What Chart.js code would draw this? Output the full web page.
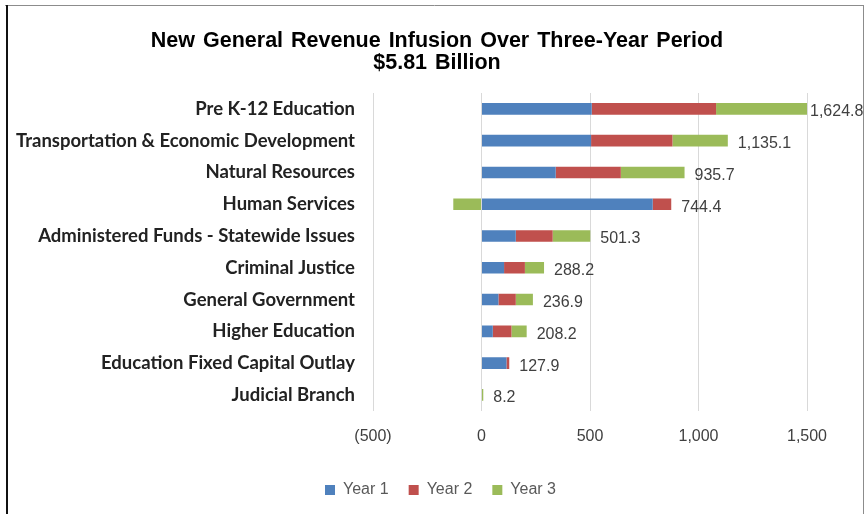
<!DOCTYPE html>
<html>
<head>
<meta charset="utf-8">
<script src="https://cdn.jsdelivr.net/npm/chart.js@4/dist/chart.umd.min.js"></script>
<style>
  html, body { margin: 0; padding: 0; background: #fff; }
  canvas { display: block; }
</style>
</head>
<body>
<canvas id="chart" width="867" height="514"></canvas>
<script>
// ===== Data =====
const categories = [
  'Pre K-12 Education',
  'Transportation & Economic Development',
  'Natural Resources',
  'Human Services',
  'Administered Funds - Statewide Issues',
  'Criminal Justice',
  'General Government',
  'Higher Education',
  'Education Fixed Capital Outlay',
  'Judicial Branch'
];
const year1 = [508, 505, 342, 789, 158, 104, 78, 52, 115, 0];
const year2 = [573, 375, 300, 85.4, 170, 96, 80, 86, 12.9, 0];
const year3 = [543.8, 255.1, 293.7, -130, 173.3, 88.2, 78.9, 70.2, 0, 8.2];
const xTicks = [-500, 0, 500, 1000, 1500];

const titleLines = ['New General Revenue Infusion Over Three-Year Period', '$5.81 Billion'];

// ===== Helpers =====
function fmtTick(v) {
  const s = Math.abs(v).toLocaleString('en-US');
  return v < 0 ? '(' + s + ')' : s;
}
function fmtTotal(v) {
  return v.toLocaleString('en-US', { minimumFractionDigits: 1, maximumFractionDigits: 1 });
}

// ===== Plugins =====
const frame = {
  id: 'frame',
  beforeDraw(chart) {
    const ctx = chart.ctx;
    ctx.save();
    ctx.fillStyle = '#fff';
    ctx.fillRect(0, 0, chart.width, chart.height);
    ctx.strokeStyle = '#8c8c8c';
    ctx.lineWidth = 1;
    ctx.beginPath();
    ctx.moveTo(5, 5.5); ctx.lineTo(864, 5.5);
    ctx.moveTo(863.5, 5); ctx.lineTo(863.5, 514);
    ctx.stroke();
    ctx.strokeStyle = '#111';
    ctx.lineWidth = 2;
    ctx.beginPath();
    ctx.moveTo(7, 5); ctx.lineTo(7, 514);
    ctx.stroke();
    ctx.restore();
  },
  afterDraw(chart) {
    // title, centred on the whole frame
    const ctx = chart.ctx;
    ctx.save();
    ctx.fillStyle = '#000';
    ctx.font = 'bold 21.5px "Liberation Sans", Arial, sans-serif';
    ctx.textAlign = 'center';
    ctx.textBaseline = 'middle';
    if ('wordSpacing' in ctx) ctx.wordSpacing = '2px';
    ctx.fillText(titleLines[0], 437, 41);
    ctx.fillText(titleLines[1], 437, 63);
    ctx.restore();
  }
};

const totalsLabels = {
  id: 'totalsLabels',
  afterDatasetsDraw(chart) {
    const { ctx, chartArea, scales: { x, y } } = chart;
    ctx.save();
    ctx.font = '16px "Liberation Sans", Arial, sans-serif';
    ctx.fillStyle = '#404040';
    ctx.textBaseline = 'middle';
    ctx.textAlign = 'left';
    categories.forEach((c, i) => {
      const parts = [year1[i], year2[i], year3[i]];
      const total = parts.reduce((a, b) => a + b, 0);
      const posEnd = parts.filter(v => v > 0).reduce((a, b) => a + b, 0);
      let px = x.getPixelForValue(posEnd);
      let gap = 10;
      if (px > chartArea.right) { px = chartArea.right; gap = 3; }
      ctx.fillText(fmtTotal(total), px + gap, y.getPixelForValue(i) + 3);
    });
    ctx.restore();
  }
};

// ===== Chart =====
new Chart(document.getElementById('chart'), {
  type: 'bar',
  data: {
    labels: categories,
    datasets: [
      { label: 'Year 1', data: year1, backgroundColor: '#4F81BD' },
      { label: 'Year 2', data: year2, backgroundColor: '#C0504D' },
      { label: 'Year 3', data: year3, backgroundColor: '#9BBB59' }
    ]
  },
  options: {
    indexAxis: 'y',
    responsive: false,
    animation: false,
    events: [],
    datasets: { bar: { categoryPercentage: 1, barPercentage: 0.365, borderWidth: 0 } },
    layout: { padding: { left: 14, right: 0, top: 93, bottom: 6 } },
    scales: {
      x: {
        stacked: true,
        min: -500, max: 1500,
        afterBuildTicks: (s) => { s.ticks = xTicks.map(v => ({ value: v })); },
        grid: { color: '#d9d9d9', drawTicks: false },
        border: { display: false },
        ticks: {
          padding: 16,
          color: '#404040',
          font: { family: '"Liberation Sans", Arial, sans-serif', size: 16 },
          callback: (v) => fmtTick(v),
          maxRotation: 0
        }
      },
      y: {
        stacked: true,
        grid: { display: false, drawTicks: false },
        border: { display: false },
        afterFit: (s) => { s.width = 359; },
        ticks: {
          padding: 18,
          color: '#222',
          font: { family: 'Lato, "Open Sans", sans-serif', size: 18.5, weight: 'bold' }
        }
      },
      // empty right-hand gutter so the plot ends at 1,500 while legend stays centred
      yRight: {
        type: 'category',
        position: 'right',
        grid: { display: false, drawTicks: false },
        border: { display: false },
        ticks: { display: false },
        afterFit: (s) => { s.width = 60; }
      }
    },
    plugins: {
      title: { display: false },
      legend: {
        position: 'bottom',
        labels: {
          boxWidth: 10, boxHeight: 10,
          padding: 20,
          color: '#595959',
          font: { family: '"Liberation Sans", Arial, sans-serif', size: 16 }
        }
      },
      tooltip: { enabled: false }
    }
  },
  plugins: [frame, totalsLabels]
});
</script>
</body>
</html>
